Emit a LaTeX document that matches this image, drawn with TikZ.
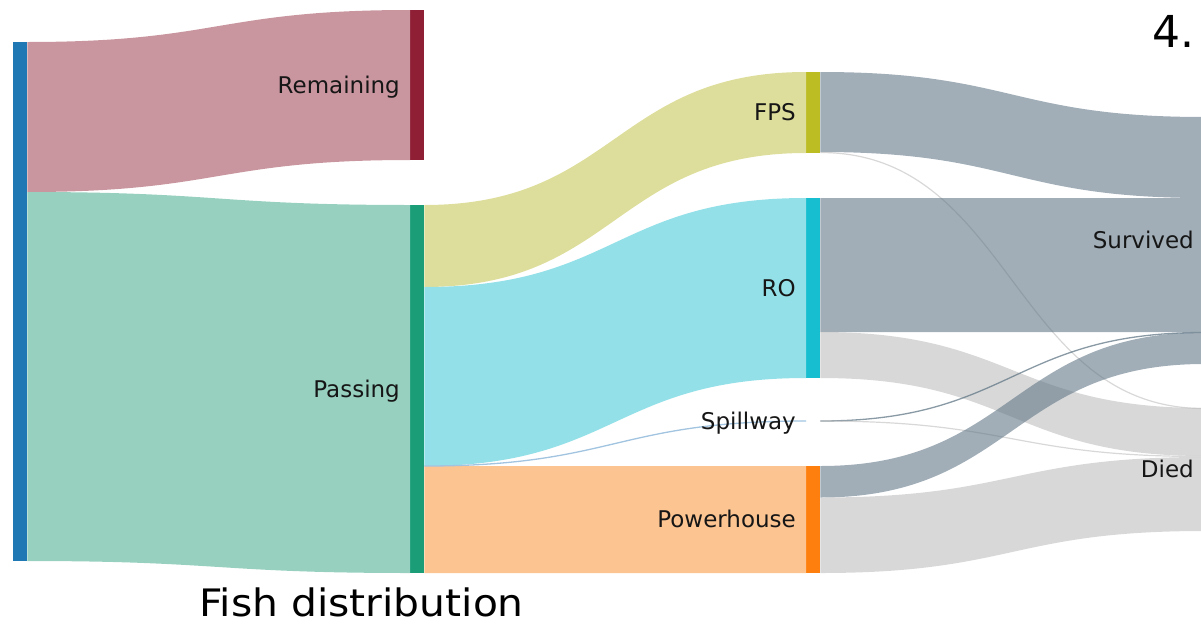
\documentclass[tikz,border=0pt]{standalone}
\usepackage{fontspec}
\setmainfont{DejaVu Sans}
\newfontfamily\titlefont[FakeStretch=1.08]{DejaVu Sans}
\usetikzlibrary{calc}
\definecolor{srcc}{HTML}{1F77B4}
\definecolor{remc}{HTML}{8E1F35}
\definecolor{remflow}{HTML}{C9969F}
\definecolor{pasc}{HTML}{1B9E77}
\definecolor{pasflow}{HTML}{97D0BF}
\definecolor{fpsc}{HTML}{BCBD22}
\definecolor{fpsflow}{HTML}{DEDE9C}
\definecolor{roc}{HTML}{17BECF}
\definecolor{roflow}{HTML}{94E0E8}
\definecolor{phc}{HTML}{FF7F0E}
\definecolor{phflow}{HTML}{FBC491}
\definecolor{spillflow}{HTML}{A2C4E0}
\definecolor{survbase}{HTML}{627887}
\definecolor{diedbase}{HTML}{BEBEBE}
\definecolor{txt}{HTML}{161616}
\tikzset{
  bar/.style={rectangle, inner sep=0pt, minimum width=14pt, anchor=north west, draw=none},
  lbl/.style={font=\fontsize{23}{23}\selectfont, text=txt, anchor=base east, inner sep=0pt},
  survfill/.style={fill=survbase, fill opacity=0.6},
  diedfill/.style={fill=diedbase, fill opacity=0.6},
  survline/.style={draw=survbase, draw opacity=0.75, line width=1.3pt},
  diedline/.style={draw=diedbase, draw opacity=0.6, line width=1.2pt},
}
% band: style, from node, top, bottom offset at source; to node, top, bottom offset at target
\newcommand\band[7]{%
  \fill[#1] let \p1=([yshift=-#3pt]#2.north east), \p2=([yshift=-#4pt]#2.north east),
    \p3=([yshift=-#6pt]#5.north west), \p4=([yshift=-#7pt]#5.north west),
    \n1={0.5*(\x1+\x3)} in
    (\p1) .. controls (\n1,\y1) and (\n1,\y3) .. (\p3) -- (\p4)
    .. controls (\n1,\y4) and (\n1,\y2) .. (\p2) -- cycle;}
% thin link: style, from node, offset, to node, offset
\newcommand\thinlink[5]{%
  \draw[#1] let \p1=([yshift=-#3pt]#2.north east), \p2=([yshift=-#5pt]#4.north west),
    \n1={0.5*(\x1+\x2)} in
    (\p1) .. controls (\n1,\y1) and (\n1,\y2) .. (\p2);}
\begin{document}
\begin{tikzpicture}[x=1pt,y=-1pt]
\path[use as bounding box] (0,0) rectangle (1201,627);
\clip (0,0) rectangle (1201,627);
% nodes (bars)
\node[bar, fill=srcc, minimum height=519pt] (src) at (13,42) {};
\node[bar, fill=remc, minimum height=150pt] (rem) at (410,10) {};
\node[bar, fill=pasc, minimum height=368pt] (pas) at (410,205) {};
\node[bar, fill=fpsc, minimum height=81pt] (fps) at (806,72) {};
\node[bar, fill=roc, minimum height=180pt] (ro) at (806,198) {};
\node[bar, minimum height=1pt] (spill) at (806,420.5) {};
\node[bar, fill=phc, minimum height=107pt] (ph) at (806,466) {};
\node[bar, fill=survbase, minimum height=247pt] (surv) at (1204,117) {};
\node[bar, fill=diedbase, minimum height=123pt] (died) at (1204,408) {};
% bands
\band{fill=remflow}{src}{0}{150}{rem}{0}{150}
\band{fill=pasflow}{src}{150}{519}{pas}{0}{368}
\band{fill=fpsflow}{pas}{0}{82}{fps}{0}{81}
\band{fill=roflow}{pas}{82}{261}{ro}{0}{180}
\band{fill=phflow}{pas}{261}{368}{ph}{0}{107}
\thinlink{draw=spillflow, line width=1.3pt}{pas}{261}{spill}{0.5}
\band{survfill}{fps}{0}{80}{surv}{0}{81}
\thinlink{diedline}{fps}{80.5}{died}{0.5}
\band{survfill}{ro}{0}{134}{surv}{81}{215}
\band{diedfill}{ro}{134}{180}{died}{0}{48}
\thinlink{survline}{spill}{0.5}{surv}{215.5}
\thinlink{diedline}{spill}{0.5}{died}{48.5}
\band{survfill}{ph}{0}{31.5}{surv}{215.5}{247}
\band{diedfill}{ph}{31.5}{107}{died}{49}{123}
% labels
\node[lbl] (remL) at ([xshift=-10pt,yshift=-8pt]rem.west) {Remaining};
\node[lbl] (pasL) at ([xshift=-10pt,yshift=-8pt]pas.west) {Passing};
\node[lbl] (fpsL) at ([xshift=-10pt,yshift=-8pt]fps.west) {FPS};
\node[lbl] (roL) at ([xshift=-10pt,yshift=-8pt]ro.west) {RO};
\node[lbl] (spillL) at ([xshift=-10pt,yshift=-8pt]spill.west) {Spillway};
\node[lbl] (phL) at ([xshift=-10pt,yshift=-8pt]ph.west) {Powerhouse};
\node[lbl] (survL) at ([xshift=-10pt,yshift=-8pt]surv.west) {Survived};
\node[lbl] (diedL) at ([xshift=-10pt,yshift=-8pt]died.west) {Died};
% titles
\node[anchor=base west, inner sep=0pt, font=\titlefont\fontsize{37.8}{38}\selectfont] (title) at (199,616) {Fish distribution};
\node[anchor=base west, inner sep=0pt, font=\fontsize{44}{44}\selectfont] (num) at (1152,47) {4.};
\end{tikzpicture}
\end{document}
